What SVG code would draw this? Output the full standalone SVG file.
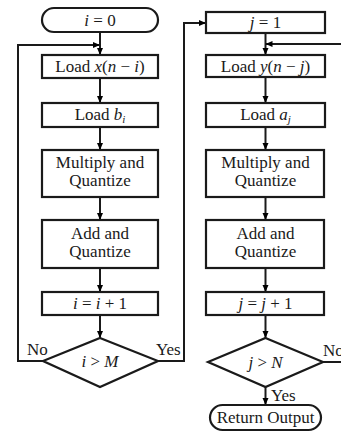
<svg xmlns="http://www.w3.org/2000/svg" width="341" height="433" viewBox="0 0 341 433" font-family="Liberation Serif, serif">
<defs>
<marker id="ah" markerUnits="userSpaceOnUse" markerWidth="8" markerHeight="8" refX="7" refY="4" orient="auto">
<path d="M0,1 L7,4 L0,7 Z" fill="#000"/>
</marker>
<style>
.n{fill:#fff;stroke:#1a1a1a;stroke-width:2.2}
.c{fill:none;stroke:#1a1a1a;stroke-width:2}
.a{marker-end:url(#ah)}
text{font-size:17px;fill:#1a1a1a;text-anchor:middle}
.i{font-style:italic}
.l{text-anchor:start}
</style>
</defs>
<rect width="341" height="433" fill="#fff"/>
<g id="connectors">
<line class="c a" x1="100" y1="32" x2="100" y2="55"/>
<line class="c a" x1="100" y1="78" x2="100" y2="103"/>
<line class="c a" x1="100" y1="127" x2="100" y2="150"/>
<line class="c a" x1="100" y1="197" x2="100" y2="220"/>
<line class="c a" x1="100" y1="268" x2="100" y2="292"/>
<line class="c a" x1="100" y1="315" x2="100" y2="338"/>
<polyline class="c a" points="43,361 18,361 18,45 100,45"/>
<polyline class="c a" points="158,361 184,361 184,23 206,23"/>
<line class="c a" x1="265.5" y1="33" x2="265.5" y2="55"/>
<line class="c a" x1="265.5" y1="77" x2="265.5" y2="103"/>
<line class="c a" x1="265.5" y1="127" x2="265.5" y2="150"/>
<line class="c a" x1="265.5" y1="197" x2="265.5" y2="220"/>
<line class="c a" x1="265.5" y1="268" x2="265.5" y2="292"/>
<line class="c a" x1="265.5" y1="315" x2="265.5" y2="338"/>
<line class="c a" x1="341" y1="44" x2="265.5" y2="44"/>
<line class="c" x1="323" y1="362" x2="341" y2="362"/>
<line class="c a" x1="265.5" y1="387" x2="265.5" y2="405"/>
<text class="l" x="27" y="355">No</text>
<text class="l" x="156" y="355">Yes</text>
<text class="l" x="323" y="356">No</text>
<text class="l" x="271" y="401">Yes</text>
</g>
<g id="init_i">
<rect class="n" x="42" y="8" width="116" height="24" rx="12"/>
<text x="100" y="26"><tspan class="i">i</tspan> = 0</text>
</g>
<g id="load_x">
<rect class="n" x="42" y="55" width="116" height="23"/>
<text x="100" y="72">Load <tspan class="i">x</tspan>(<tspan class="i">n</tspan> − <tspan class="i">i</tspan>)</text>
</g>
<g id="load_b">
<rect class="n" x="42" y="103" width="116" height="24"/>
<text x="100" y="120">Load  <tspan class="i">b</tspan><tspan class="i" font-size="11" dy="3">i</tspan></text>
</g>
<g id="mult_l">
<rect class="n" x="42" y="150" width="116" height="47"/>
<text x="100" y="168">Multiply and</text>
<text x="100" y="186">Quantize</text>
</g>
<g id="add_l">
<rect class="n" x="42" y="220" width="116" height="48"/>
<text x="100" y="239">Add and</text>
<text x="100" y="257">Quantize</text>
</g>
<g id="inc_i">
<rect class="n" x="42" y="292" width="116" height="23"/>
<text x="100" y="309"><tspan class="i">i</tspan> = <tspan class="i">i</tspan> + 1</text>
</g>
<g id="test_i">
<polygon class="n" points="100,338 158,361 100,387 43,361"/>
<text x="100" y="367"><tspan class="i">i</tspan> &gt; <tspan class="i">M</tspan></text>
</g>
<g id="init_j">
<rect class="n" x="206" y="12" width="119" height="21"/>
<text x="265.5" y="28"><tspan class="i">j</tspan> = 1</text>
</g>
<g id="load_y">
<rect class="n" x="206" y="55" width="119" height="22"/>
<text x="265.5" y="72">Load <tspan class="i">y</tspan>(<tspan class="i">n</tspan> − <tspan class="i">j</tspan>)</text>
</g>
<g id="load_a">
<rect class="n" x="206" y="103" width="119" height="24"/>
<text x="265.5" y="120">Load  <tspan class="i">a</tspan><tspan class="i" font-size="11" dy="3">j</tspan></text>
</g>
<g id="mult_r">
<rect class="n" x="206" y="150" width="118" height="47"/>
<text x="265.5" y="168">Multiply and</text>
<text x="265.5" y="186">Quantize</text>
</g>
<g id="add_r">
<rect class="n" x="206" y="220" width="118" height="48"/>
<text x="265.5" y="239">Add and</text>
<text x="265.5" y="257">Quantize</text>
</g>
<g id="inc_j">
<rect class="n" x="206" y="292" width="118" height="23"/>
<text x="265.5" y="309"><tspan class="i">j</tspan> = <tspan class="i">j</tspan> + 1</text>
</g>
<g id="test_j">
<polygon class="n" points="265.5,338 323,362 265.5,387 208,362"/>
<text x="265.5" y="368"><tspan class="i">j</tspan> &gt; <tspan class="i">N</tspan></text>
</g>
<g id="ret">
<rect class="n" x="210" y="405" width="111" height="25" rx="12.5"/>
<text x="265.5" y="423">Return Output</text>
</g>
</svg>
